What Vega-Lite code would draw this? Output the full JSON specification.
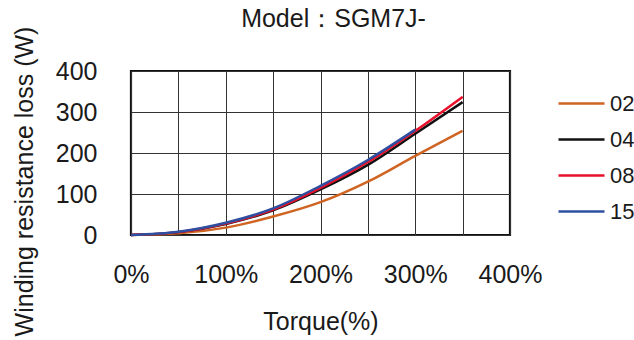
{
  "$schema": "https://vega.github.io/schema/vega-lite/v6.json",
  "autosize": "none",
  "padding": {"left": 131, "top": 71, "right": 124, "bottom": 105},
  "width": 379,
  "height": 164,
  "background": "white",
  "title": {
    "text": "Model：SGM7J-",
    "font": "Liberation Sans",
    "fontSize": 25,
    "fontWeight": "normal",
    "color": "#1a1a1a",
    "baseline": "middle",
    "offset": 8,
    "dx": 13,
    "dy": 26
  },
  "data": {
    "values": [
      {"series": "02", "torque": 0, "loss": 0},
      {"series": "02", "torque": 50, "loss": 4},
      {"series": "02", "torque": 100, "loss": 18},
      {"series": "02", "torque": 150, "loss": 45},
      {"series": "02", "torque": 200, "loss": 80},
      {"series": "02", "torque": 250, "loss": 130},
      {"series": "02", "torque": 300, "loss": 193},
      {"series": "02", "torque": 350, "loss": 254},
      {"series": "04", "torque": 0, "loss": 0},
      {"series": "04", "torque": 50, "loss": 7},
      {"series": "04", "torque": 100, "loss": 27},
      {"series": "04", "torque": 150, "loss": 60},
      {"series": "04", "torque": 200, "loss": 111},
      {"series": "04", "torque": 250, "loss": 171},
      {"series": "04", "torque": 300, "loss": 247},
      {"series": "04", "torque": 350, "loss": 324},
      {"series": "08", "torque": 0, "loss": 0},
      {"series": "08", "torque": 50, "loss": 7},
      {"series": "08", "torque": 100, "loss": 28},
      {"series": "08", "torque": 150, "loss": 62},
      {"series": "08", "torque": 200, "loss": 115},
      {"series": "08", "torque": 250, "loss": 178},
      {"series": "08", "torque": 300, "loss": 254},
      {"series": "08", "torque": 350, "loss": 337},
      {"series": "15", "torque": 0, "loss": 0},
      {"series": "15", "torque": 50, "loss": 8},
      {"series": "15", "torque": 100, "loss": 30},
      {"series": "15", "torque": 150, "loss": 65},
      {"series": "15", "torque": 200, "loss": 120},
      {"series": "15", "torque": 250, "loss": 183},
      {"series": "15", "torque": 300, "loss": 257}
    ]
  },
  "mark": {"type": "line", "interpolate": "monotone", "strokeWidth": 2.5},
  "encoding": {
    "x": {
      "field": "torque",
      "type": "quantitative",
      "scale": {"domain": [0, 400], "nice": false, "zero": true},
      "axis": {
        "values": [0, 50, 100, 150, 200, 250, 300, 350, 400],
        "labelExpr": "datum.value % 100 === 0 ? datum.value + '%' : ''",
        "title": "Torque(%)",
        "titleY": 86.5,
        "titleBaseline": "middle",
        "labelPadding": 27,
        "ticks": false,
        "tickSize": 0,
        "domain": false,
        "labelOverlap": false,
        "labelFlush": false
      }
    },
    "y": {
      "field": "loss",
      "type": "quantitative",
      "scale": {"domain": [0, 400], "nice": false},
      "axis": {
        "values": [0, 100, 200, 300, 400],
        "title": "Winding resistance loss (W)",
        "titleX": -107,
        "titleY": 110,
        "titleAngle": -90,
        "titleBaseline": "middle",
        "titleAlign": "center",
        "labelPadding": 34,
        "ticks": false,
        "tickSize": 0,
        "domain": false,
        "labelOverlap": false,
        "labelFlush": false
      }
    },
    "color": {
      "field": "series",
      "type": "nominal",
      "scale": {
        "domain": ["02", "04", "08", "15"],
        "range": ["#CF6423", "#111111", "#E8102A", "#2F4FA0"]
      },
      "legend": {
        "orient": "none",
        "legendX": 426,
        "legendY": 8,
        "title": null,
        "symbolType": "stroke",
        "symbolSize": 2116,
        "symbolStrokeWidth": 2.5,
        "labelOffset": 4,
        "rowPadding": -8.3,
        "labelFont": "Liberation Sans",
        "labelFontSize": 22,
        "labelColor": "#1a1a1a",
        "padding": 0
      }
    }
  },
  "config": {
    "view": {"stroke": "#111111", "strokeWidth": 2.2},
    "axis": {
      "grid": true,
      "gridColor": "#333333",
      "gridWidth": 1,
      "gridOpacity": 1,
      "labelFont": "Liberation Sans",
      "labelFontSize": 25,
      "labelColor": "#1a1a1a",
      "titleFont": "Liberation Sans",
      "titleFontSize": 25,
      "titleFontWeight": "normal",
      "titleColor": "#1a1a1a"
    }
  }
}
